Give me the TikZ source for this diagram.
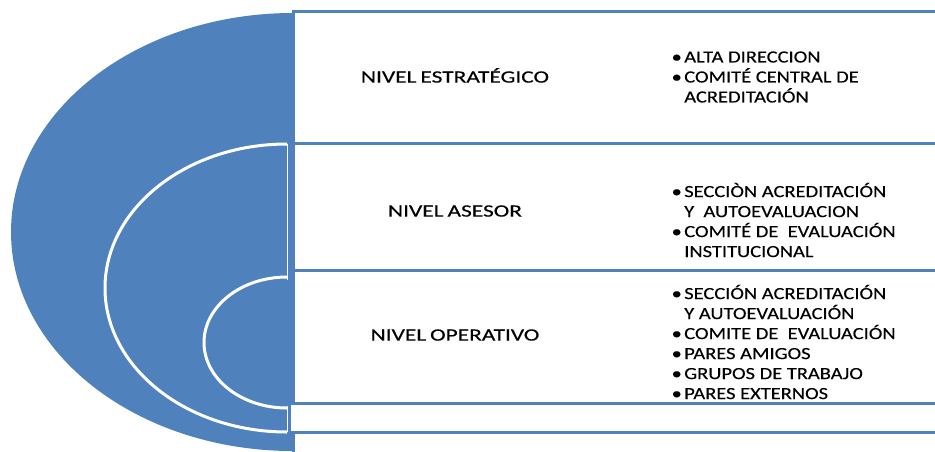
\documentclass[tikz,border=0pt]{standalone}
\usepackage{fontspec}
\setmainfont{Carlito}
\newfontfamily\nivelfont[FakeStretch=1.35, FakeBold=0.4]{Carlito}
\newfontfamily\listfont[FakeStretch=1.2, FakeBold=0.2]{Carlito}
\definecolor{nivelblue}{HTML}{4F81BD}
\tikzstyle{levelbox} = [draw=nivelblue, fill=white, line width=2.25pt, rectangle,
    anchor=north west, outer sep=0pt, minimum width=495pt]
\tikzstyle{leveltitle} = [font=\nivelfont\fontsize{13}{15}\selectfont, inner sep=0pt,
    text height=8.4pt, text depth=0pt]
\tikzstyle{itemlist} = [font=\listfont\fontsize{12.8}{15}\selectfont, align=left,
    anchor=west, inner sep=0pt]
\tikzstyle{arcline} = [draw=white, line width=2.25pt]
\newcommand{\nivelitem}{\makebox[10.5pt][l]{\hspace*{1pt}\textbullet}}
\newcommand{\nivelcont}{\hspace*{10.5pt}}

\begin{document}
\begin{tikzpicture}[x=0.75pt, y=-0.75pt]
  \useasboundingbox (0,0) rectangle (935,451);
  \clip (0,0) rectangle (935,451);

  % nested half ellipses
  \begin{scope}
    \clip (0,0) rectangle (293,451);
    \fill[nivelblue] (293,232) ellipse [x radius=282, y radius=219];
  \end{scope}
  \begin{scope}
    \clip (0,0) rectangle (287,451);
    \draw[arcline] (287,288) ellipse [x radius=182, y radius=144];
  \end{scope}
  \draw[white, line width=0.6pt] (287,144) -- (287,432);
  \fill[nivelblue] (285,279.5) rectangle (293,406);
  \begin{scope}
    \clip (0,0) rectangle (287,451);
    \draw[arcline] (287,342.5) ellipse [x radius=83, y radius=65.5];
  \end{scope}

  % boxes
  \node[levelbox, minimum height=99pt] (estrategico) at (293,11) {};
  \node[levelbox, minimum height=95.25pt] (asesor) at (293,143) {};
  \node[levelbox, minimum height=99.75pt] (operativo) at (293,270) {};
  \node[levelbox, minimum height=21.75pt] (vacio) at (289,403) {};
  \node[levelbox, minimum height=30pt] (base) at (293,432) {};

  % titles
  \node[leveltitle] (tit1) at (455,77) {NIVEL\hspace{3pt}ESTRATÉGICO};
  \node[leveltitle] (tit2) at (455,211) {NIVEL\hspace{3pt}ASESOR};
  \node[leveltitle] (tit3) at (455,335) {NIVEL\hspace{3pt}OPERATIVO};

  % items
  \node[itemlist] (items1) at (670,77) {\nivelitem ALTA DIRECCION\\
    \nivelitem COMITÉ CENTRAL DE\\ \nivelcont ACREDITACIÓN};
  \node[itemlist] (items2) at (670,220) {\nivelitem SECCIÒN ACREDITACIÓN\\
    \nivelcont Y\ \ AUTOEVALUACION\\ \nivelitem COMITÉ DE\ \ EVALUACIÓN\\
    \nivelcont INSTITUCIONAL};
  \node[itemlist] (items3) at (670,342) {\nivelitem SECCIÓN ACREDITACIÓN\\
    \nivelcont Y AUTOEVALUACIÓN\\ \nivelitem COMITE DE\ \ EVALUACIÓN\\
    \nivelitem PARES AMIGOS\\ \nivelitem GRUPOS DE TRABAJO\\
    \nivelitem PARES EXTERNOS};
\end{tikzpicture}
\end{document}
